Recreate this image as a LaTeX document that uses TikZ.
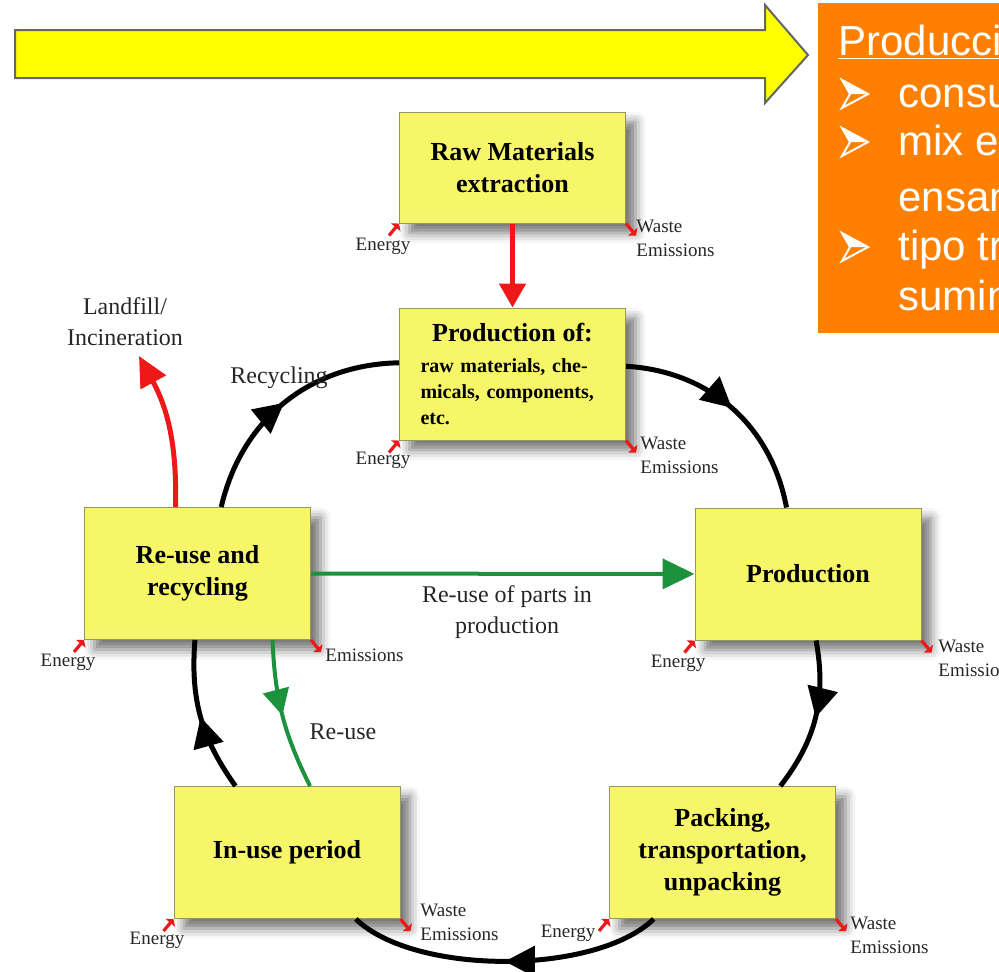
\documentclass[tikz,border=0pt]{standalone}
\usepackage{fontspec}
\setmainfont{Liberation Serif}
\newfontfamily\slidefont{Liberation Sans}
\usetikzlibrary{arrows.meta,decorations.markings,shadows.blur}

\definecolor{boxyellow}{RGB}{246,246,104}
\definecolor{boxedge}{RGB}{150,150,95}
\definecolor{slideyellow}{RGB}{255,255,0}
\definecolor{slideorange}{RGB}{255,128,0}
\definecolor{flowred}{RGB}{238,24,24}
\definecolor{flowgreen}{RGB}{28,146,60}

\tikzset{
  stage/.style={rectangle, draw=boxedge, line width=0.5pt, fill=boxyellow,
    minimum width=113pt, minimum height=66pt, inner sep=0pt, align=center,
    font=\fontsize{13}{16}\selectfont\bfseries,
    blur shadow={shadow xshift=5pt, shadow yshift=-5pt, shadow blur radius=5pt, shadow opacity=55}},
  flowlabel/.style={font=\fontsize{9.5}{12}\selectfont, text=black!85, inner sep=0pt, align=left},
  arclabel/.style={font=\fontsize{12}{15.5}\selectfont, text=black!85, inner sep=0pt, align=center},
  midtip/.style={postaction={decorate}, decoration={markings,
    mark=at position 0.5 with {\arrow{Triangle[length=#1,width=#1]}}}},
  midtip/.default=15pt,
  loopline/.style={line width=2.5pt, midtip},
  redflow/.style={flowred, line width=2.5pt, -{Triangle[length=12pt,width=13pt]}},
  greenflow/.style={flowgreen, line width=2pt, -{Triangle[length=16pt,width=15pt]}},
  sidearrow/.style={flowred, line width=1.6pt, -{Triangle[length=2.5pt,width=6pt]}},
  pointer/.pic={
    \fill[white] (-13,14) -- (13,0) -- (-5,0) -- cycle;
    \draw[white, line width=1pt] (-13,14) -- (13,0) -- (-13,-14) -- (-5,0) -- cycle;
  }
}

\begin{document}
\begin{tikzpicture}[x=0.5pt, y=0.5pt]
    \useasboundingbox (0,0) rectangle (999,-971);

    % slide arrow and the orange text box
    \begin{scope}
    \clip (0,0) rectangle (999,-971);
    \filldraw[fill=slideyellow, draw=black!60, line width=1pt]
        (15,-30) -- (765,-30) -- (765,-5) -- (808,-55) -- (765,-103) -- (765,-78) -- (15,-78) -- cycle;
    \fill[slideorange] (818,-3) rectangle (1012,-333);
    \begin{scope}[every node/.style={anchor=base west, inner sep=0pt, text=white,
        font=\slidefont\fontsize{21}{25}\selectfont}]
    \node (title) at (838,-55) {\underline{Producción}};
    \node (b1) at (898,-107) {consumo};
    \node (b2) at (898,-155) {mix energético};
    \node (b2b) at (898,-211) {ensamblaje};
    \node (b3) at (898,-260) {tipo transporte};
    \node (b3b) at (898,-310) {suministros};
    \end{scope}
    \pic at (855,-94) {pointer};
    \pic at (855,-142) {pointer};
    \pic at (855,-247) {pointer};
    \end{scope}

    % the stages of the life cycle
    \node[stage, minimum height=55.5pt] (raw) at (512.5,-167.5) {Raw Materials\\extraction};
    \node[stage, text width=92pt, align=left, font=\fontsize{10}{13}\selectfont\bfseries] (prodof) at (512.5,-374)
        {\makebox[92pt]{\fontsize{13}{16}\selectfont Production of:}\\[2.5pt]
         raw materials, che-\\micals, components,\\etc.};
    \node[stage] (reuse) at (197.5,-573.5) {Re-use and\\recycling};
    \node[stage] (prod) at (808,-574) {Production};
    \node[stage] (inuse) at (287,-852.5) {In-use period};
    \node[stage] (pack) at (722.5,-852.5) {Packing,\\transportation,\\unpacking};

    % energy in and waste out at every stage
    \foreach \s in {raw,prodof,reuse,prod,inuse,pack}{
        \draw[sidearrow] ([shift={(-10,-12)}]\s.south west) -- (\s.south west);
        \draw[sidearrow] (\s.south east) -- ++(10,-12);
    }
    \node[flowlabel] (eraw) at (383,-246) {Energy};
    \node[flowlabel] (eprodof) at (383,-460) {Energy};
    \node[flowlabel] (ereuse) at (68,-662) {Energy};
    \node[flowlabel] (eprod) at (678,-663) {Energy};
    \node[flowlabel] (einuse) at (157,-940) {Energy};
    \node[flowlabel] (epack) at (568,-933) {Energy};
    \node[flowlabel, anchor=west] (wraw) at (636,-238.5) {Waste\\Emissions};
    \node[flowlabel, anchor=west] (wprodof) at (640,-455) {Waste\\Emissions};
    \node[flowlabel, anchor=west] (wreuse) at (325,-655) {Emissions};
    \node[flowlabel, anchor=west] (wprod) at (938,-658) {Waste\\Emissions};
    \node[flowlabel, anchor=west] (winuse) at (420,-922.5) {Waste\\Emissions};
    \node[flowlabel, anchor=west] (wpack) at (850,-935) {Waste\\Emissions};

    % the loop
    \draw[loopline] (reuse) to[bend left=38] (prodof);
    \draw[loopline] (prodof) to[bend left=38] (prod);
    \draw[loopline] (prod) to[bend left=24] (pack);
    \draw[loopline] (pack) to[bend left=44, looseness=0.7] (inuse);
    \draw[loopline] (inuse) to[bend left=20] (reuse);

    % side flows
    \coordinate (lf) at (139,-356);
    \draw[redflow] (raw) -- (prodof);
    \draw[redflow, -{Triangle[length=15pt,width=14pt]}] ([shift={(-22,0)}]reuse.north) to[bend right=15] (lf);
    \draw[greenflow] (reuse) -- (prod);
    \draw[flowgreen, line width=2pt, midtip=13pt] ([shift={(75,0)}]reuse.south) to[bend right=12] ([shift={(23,0)}]inuse.north);

    % the texts
    \node[arclabel] (landfill) at (125,-322) {Landfill/\\Incineration};
    \node[arclabel] (recyc) at (279,-378) {Recycling};
    \node[arclabel] (reusetxt) at (343,-732) {Re-use};
    \node[arclabel] (parts) at (507,-612) {Re-use of parts in\\production};
\end{tikzpicture}
\end{document}
